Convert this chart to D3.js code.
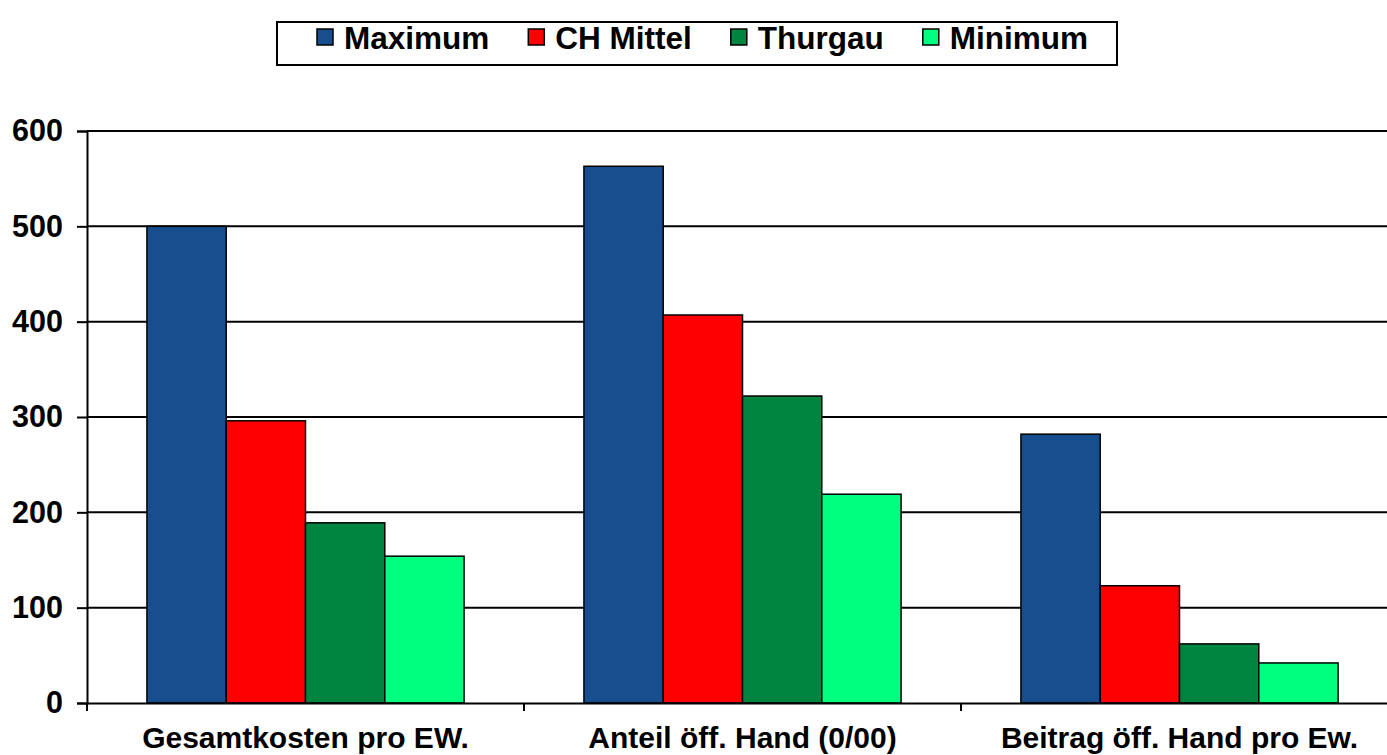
<!DOCTYPE html>
<html>
<head>
<meta charset="utf-8">
<script src="https://cdn.jsdelivr.net/npm/d3@7/dist/d3.min.js"></script>
<style>
  html, body { margin: 0; padding: 0; background: #fff; }
  svg { display: block; font-family: "Liberation Sans", Arial, sans-serif; font-weight: bold; }
</style>
</head>
<body>
<svg id="chart" width="1387" height="755"></svg>
<script>
const categories = ["Gesamtkosten pro EW.", "Anteil öff. Hand (0/00)", "Beitrag öff. Hand pro Ew."];
const seriesNames = ["Maximum", "CH Mittel", "Thurgau", "Minimum"];
const maximum  = [500, 563, 282];
const chMittel = [296, 407, 123];
const thurgau  = [189, 322, 62];
const minimum  = [154, 219, 42];
const yTicks = [0, 100, 200, 300, 400, 500, 600];
const colors = ["#174F8E", "#FF0000", "#008540", "#00FF7F"];

const seriesValues = [maximum, chMittel, thurgau, minimum];

const svg = d3.select("#chart");
const plotLeft = 87, plotRight = 1398, plotTop = 131, plotBottom = 703;

const x0 = d3.scaleBand().domain(categories).range([plotLeft, plotRight]).paddingInner(0).paddingOuter(0);
const x1 = d3.scaleBand().domain(seriesNames).range([0, x0.bandwidth()]).paddingInner(0).paddingOuter(0.756);
const y = d3.scaleLinear().domain([0, 600]).range([plotBottom, plotTop]);
const color = d3.scaleOrdinal().domain(seriesNames).range(colors);

// gridlines
svg.append("g")
  .selectAll("line").data(yTicks.filter(d => d > 0)).join("line")
  .attr("x1", plotLeft).attr("x2", plotRight)
  .attr("y1", d => y(d)).attr("y2", d => y(d))
  .attr("stroke", "#000").attr("stroke-width", 2);

// bars
const data = [];
categories.forEach((c, i) => seriesNames.forEach((s, j) => data.push({c, s, v: seriesValues[j][i]})));
svg.append("g")
  .selectAll("rect").data(data).join("rect")
  .attr("x", d => x0(d.c) + x1(d.s))
  .attr("y", d => y(d.v))
  .attr("width", x1.bandwidth())
  .attr("height", d => y(0) - y(d.v))
  .attr("fill", d => color(d.s))
  .attr("stroke", "#000").attr("stroke-width", 1.5);

// y axis
const yAxis = d3.axisLeft(y).tickValues(yTicks).tickSize(10).tickPadding(14).tickFormat(d3.format("d"));
const gy = svg.append("g").attr("transform", `translate(${plotLeft},0)`).call(yAxis);
gy.select(".domain").attr("stroke", "#000").attr("stroke-width", 2);
gy.selectAll(".tick line").attr("stroke", "#000").attr("stroke-width", 2);
gy.selectAll(".tick text").attr("font-size", 30.5).attr("font-weight", "bold")
  .attr("font-family", "'Liberation Sans', Arial, sans-serif").attr("fill", "#000");

// x axis
const xAxis = d3.axisBottom(x0).tickSize(0).tickPadding(24);
const gx = svg.append("g").attr("transform", `translate(0,${plotBottom})`).call(xAxis);
gx.select(".domain").attr("stroke", "#000").attr("stroke-width", 2);
gx.selectAll(".tick text").attr("font-size", 30).attr("font-weight", "bold")
  .attr("font-family", "'Liberation Sans', Arial, sans-serif").attr("fill", "#000")
  .attr("dy", "0.71em");
// category boundary ticks
gx.append("g").selectAll("line").data(categories).join("line")
  .attr("x1", d => x0(d)).attr("x2", d => x0(d))
  .attr("y1", 0).attr("y2", 8)
  .attr("stroke", "#000").attr("stroke-width", 2);

// legend
const lg = svg.append("g");
lg.append("rect").attr("x", 277).attr("y", 22).attr("width", 840).attr("height", 43)
  .attr("fill", "#fff").attr("stroke", "#000").attr("stroke-width", 2);
let lx = 317;
seriesNames.forEach((s, i) => {
  lg.append("rect").attr("x", lx).attr("y", 29).attr("width", 16).attr("height", 16)
    .attr("fill", color(s)).attr("stroke", "#000").attr("stroke-width", 1.5);
  const t = lg.append("text").attr("x", lx + 27).attr("y", 49)
    .attr("font-size", 31.5).attr("font-weight", "bold").attr("fill", "#000").text(s);
  lx = lx + 27 + t.node().getComputedTextLength() + 39;
});
</script>
</body>
</html>
